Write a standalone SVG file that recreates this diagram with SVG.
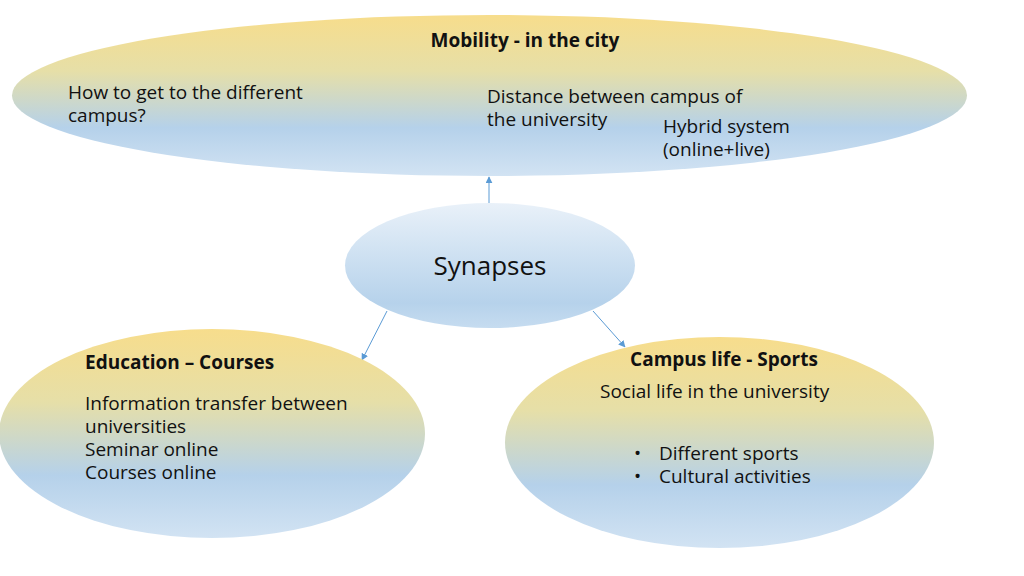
<svg xmlns="http://www.w3.org/2000/svg" width="1024" height="576" viewBox="0 0 1024 576">
<defs>
<linearGradient id="gy" x1="0" y1="0" x2="0" y2="1">
<stop offset="0" stop-color="#f7dd8c"/>
<stop offset="0.35" stop-color="#e6dfa8"/>
<stop offset="0.7" stop-color="#b5d1ea"/>
<stop offset="1" stop-color="#d2e3f3"/>
</linearGradient>
<linearGradient id="gb" x1="0" y1="0" x2="0" y2="1">
<stop offset="0" stop-color="#e9f1f9"/>
<stop offset="0.8" stop-color="#b6d2eb"/>
<stop offset="1" stop-color="#c6dcf0"/>
</linearGradient>
<marker id="ah" viewBox="0 0 10 10" refX="9" refY="5" markerWidth="7" markerHeight="7" orient="auto" markerUnits="userSpaceOnUse">
<path d="M0,0 L10,5 L0,10 z" fill="#5b9bd5"/>
</marker>
<style>
text{font-family:"Open Sans","Noto Sans","Liberation Sans",sans-serif;fill:#111;font-size:19px}
.b{font-weight:bold}
.c{stroke:#5b9bd5;stroke-width:1;fill:none;marker-end:url(#ah)}
</style>
</defs>
<g id="connectors">
<line class="c" x1="489" y1="204" x2="489" y2="177"/>
<line class="c" x1="387" y1="311" x2="362" y2="360"/>
<line class="c" x1="593" y1="311" x2="625" y2="347"/>
<line class="c" x1="635" y1="121" x2="651" y2="131"/>
<line class="c" x1="730" y1="409" x2="733" y2="437"/>
</g>
<g id="mobility">
<ellipse cx="489.5" cy="95.5" rx="477.5" ry="80.5" fill="url(#gy)"/>
<text class="b" x="525" y="47" text-anchor="middle">Mobility - in the city</text>
<text x="68" y="99">How to get to the different</text>
<text x="68" y="122">campus?</text>
<text x="487" y="103">Distance between campus of</text>
<text x="487" y="126">the university</text>
<text x="663" y="133">Hybrid system</text>
<text x="663" y="156">(online+live)</text>
</g>
<g id="synapses">
<ellipse cx="490" cy="265.5" rx="145" ry="62.5" fill="url(#gb)"/>
<text x="490" y="275" text-anchor="middle" style="font-size:26px">Synapses</text>
</g>
<g id="education">
<ellipse cx="212" cy="433.5" rx="213" ry="104.5" fill="url(#gy)"/>
<text class="b" x="85" y="369">Education – Courses</text>
<text x="85" y="410">Information transfer between</text>
<text x="85" y="433">universities</text>
<text x="85" y="456">Seminar online</text>
<text x="85" y="479">Courses online</text>
</g>
<g id="campus">
<ellipse cx="719.5" cy="442.5" rx="214.5" ry="105.5" fill="url(#gy)"/>
<text class="b" x="724" y="366" text-anchor="middle">Campus life - Sports</text>
<text x="600" y="398">Social life in the university</text>
<text x="634" y="460">•</text>
<text x="659" y="460">Different sports</text>
<text x="634" y="483">•</text>
<text x="659" y="483">Cultural activities</text>
</g>
</svg>
